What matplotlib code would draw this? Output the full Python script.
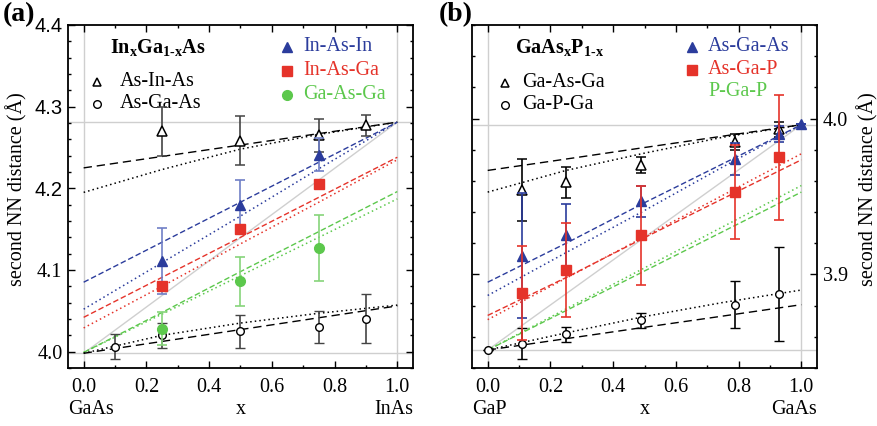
import matplotlib
matplotlib.use("Agg")
import matplotlib.pyplot as plt
from matplotlib.ticker import MultipleLocator, FormatStrFormatter

plt.rcParams['font.family'] = 'serif'
plt.rcParams['font.serif'] = ['Liberation Serif', 'DejaVu Serif']
plt.rcParams['mathtext.fontset'] = 'custom'
plt.rcParams['mathtext.rm'] = 'Liberation Serif'
plt.rcParams['mathtext.bf'] = 'Liberation Serif:bold'
plt.rcParams['mathtext.it'] = 'Liberation Serif:italic'

BLUE = '#2b3c9c'
RED = '#e5332a'
GREEN = '#5cc84c'
BLUE_ERR = '#6f7fc6'
GREEN_ERR = '#86d47a'
GRAY = '#cfcfcf'

# ---------------- panel (a): InxGa1-xAs ----------------
a_xline = [0.0, 0.25, 0.5, 0.75, 1.0]
a_black_dash_up = [4.225, 4.239, 4.253, 4.267, 4.281]
a_black_dot_up = [4.195, 4.223, 4.248, 4.266, 4.281]
a_blue_dash = [4.085, 4.134, 4.183, 4.232, 4.281]
a_blue_dot = [4.052, 4.109, 4.166, 4.224, 4.281]
a_red_dash = [4.042, 4.091, 4.140, 4.189, 4.238]
a_red_dot = [4.029, 4.080, 4.132, 4.183, 4.235]
a_green_dash = [3.999, 4.048, 4.098, 4.147, 4.196]
a_green_dot = [3.999, 4.046, 4.093, 4.140, 4.187]
a_black_dash_lo = [3.998, 4.0125, 4.027, 4.0415, 4.056]
a_black_dot_lo = [3.998, 4.020, 4.035, 4.047, 4.057]
a_ref_lo, a_ref_hi = 3.998, 4.281

a_AsInAs_x = [0.25, 0.5, 0.75, 0.9]
a_AsInAs_y = [4.270, 4.258, 4.265, 4.277]
a_AsInAs_e = [0.030, 0.030, 0.020, 0.013]
a_AsGaAs_x = [0.1, 0.25, 0.5, 0.75, 0.9]
a_AsGaAs_y = [4.006, 4.020, 4.025, 4.030, 4.040]
a_AsGaAs_e = [0.015, 0.015, 0.020, 0.020, 0.030]
a_InAsIn_x = [0.25, 0.5, 0.75]
a_InAsIn_y = [4.111, 4.180, 4.241]
a_InAsIn_e = [0.040, 0.030, 0.020]
a_InAsGa_x = [0.25, 0.5, 0.75]
a_InAsGa_y = [4.080, 4.150, 4.205]
a_GaAsGa_x = [0.25, 0.5, 0.75]
a_GaAsGa_y = [4.028, 4.086, 4.127]
a_GaAsGa_e = [0.020, 0.030, 0.040]

# ---------------- panel (b): GaAsxP1-x ----------------
b_xline = [0.0, 0.25, 0.5, 0.75, 1.0]
b_black_dash_up = [3.9667, 3.9740, 3.9814, 3.9887, 3.996]
b_black_dot_up = [3.9528, 3.9667, 3.9778, 3.9880, 3.996]
b_blue_dash = [3.895, 3.920, 3.946, 3.971, 3.996]
b_blue_dot = [3.8865, 3.914, 3.941, 3.969, 3.996]
b_red_dash = [3.8737, 3.8980, 3.9236, 3.9486, 3.9735]
b_red_dot = [3.8710, 3.8976, 3.9242, 3.9508, 3.9774]
b_green_dot = [3.8515, 3.8779, 3.9042, 3.9306, 3.957]
b_green_dash = [3.8515, 3.8768, 3.9022, 3.9275, 3.9528]
b_black_dot_lo = [3.8515, 3.8625, 3.8730, 3.8820, 3.890]
b_black_dash_lo = [3.8515, 3.8588, 3.8661, 3.8733, 3.8806]
b_ref_lo, b_ref_hi = 3.8515, 3.996

b_GaAsGa_x = [0.11, 0.25, 0.49, 0.79, 0.93]
b_GaAsGa_y = [3.954, 3.959, 3.970, 3.985, 3.993]
b_GaAsGa_e = [0.020, 0.010, 0.005, 0.005, 0.005]
b_GaPGa_x = [0.0, 0.11, 0.25, 0.49, 0.79, 0.93]
b_GaPGa_y = [3.8515, 3.8556, 3.8615, 3.8705, 3.8806, 3.8876]
b_GaPGa_e = [0.0, 0.010, 0.005, 0.005, 0.015, 0.030]
b_AsGaAs_x = [0.11, 0.25, 0.49, 0.79, 0.93, 1.0]
b_AsGaAs_y = [3.912, 3.925, 3.947, 3.974, 3.990, 3.9966]
b_AsGaAs_e = [0.040, 0.020, 0.010, 0.010, 0.005, 0.0]
b_AsGaP_x = [0.11, 0.25, 0.49, 0.79, 0.93]
b_AsGaP_y = [3.888, 3.903, 3.925, 3.953, 3.975]
b_AsGaP_e = [0.030, 0.030, 0.032, 0.030, 0.040]

xticks = [0.0, 0.2, 0.4, 0.6, 0.8, 1.0]

fig = plt.figure(figsize=(8.77, 4.26), dpi=100)
axA = fig.add_axes([0.0775, 0.1362, 0.3934, 0.8052])
axB = fig.add_axes([0.5382, 0.1362, 0.3934, 0.8052])

DASH_K = (0, (6, 3.5))
DASH_C = (0, (4, 2))
DOT = (0, (1, 2))
FS = 14.5


def style_axes(ax, ylim, ymajor, right=False):
    ax.set_xlim(-0.05, 1.05)
    ax.set_ylim(*ylim)
    ax.set_xticks(xticks)
    ax.xaxis.set_minor_locator(MultipleLocator(0.1))
    ax.yaxis.set_major_locator(MultipleLocator(ymajor))
    ax.yaxis.set_minor_locator(MultipleLocator(0.02))
    ax.xaxis.set_major_formatter(FormatStrFormatter('%.1f'))
    ax.yaxis.set_major_formatter(FormatStrFormatter('%.1f'))
    ax.tick_params(which='both', direction='in', top=True, right=True, left=True, bottom=True)
    ax.tick_params(which='major', length=5, width=1.0, labelsize=FS)
    ax.tick_params(which='minor', length=2.5, width=1.0)
    ax.tick_params(axis='x', pad=7)
    ax.tick_params(axis='y', pad=4)
    if right:
        ax.tick_params(axis='y', labelleft=False, labelright=True)
    for s in ax.spines.values():
        s.set_linewidth(1.3)


def ref_lines(ax, lo, hi):
    ax.axhline(lo, color=GRAY, lw=1.0, zorder=1)
    ax.axhline(hi, color=GRAY, lw=1.0, zorder=1)
    ax.axvline(0.0, color=GRAY, lw=1.0, zorder=1)
    ax.axvline(1.0, color=GRAY, lw=1.0, zorder=1)
    ax.plot([0.0, 1.0], [lo, hi], color=GRAY, lw=1.0, zorder=1)


# ---------- panel (a) ----------
ax = axA
style_axes(ax, (3.98, 4.40), 0.1)
ref_lines(ax, a_ref_lo, a_ref_hi)
ax.plot(a_xline, a_black_dash_up, color='k', ls=DASH_K, lw=1.0, zorder=2)
ax.plot(a_xline, a_black_dot_up, color='k', ls=DOT, lw=1.1, zorder=2)
ax.plot(a_xline, a_blue_dash, color=BLUE, ls=DASH_C, lw=1.0, zorder=2)
ax.plot(a_xline, a_blue_dot, color=BLUE, ls=DOT, lw=1.1, zorder=2)
ax.plot(a_xline, a_red_dash, color=RED, ls=DASH_C, lw=1.0, zorder=2)
ax.plot(a_xline, a_red_dot, color=RED, ls=DOT, lw=1.1, zorder=2)
ax.plot(a_xline, a_green_dash, color=GREEN, ls=DASH_C, lw=1.0, zorder=2)
ax.plot(a_xline, a_green_dot, color=GREEN, ls=DOT, lw=1.1, zorder=2)
ax.plot(a_xline, a_black_dash_lo, color='k', ls=DASH_K, lw=1.0, zorder=2)
ax.plot(a_xline, a_black_dot_lo, color='k', ls=DOT, lw=1.1, zorder=2)

ax.errorbar(a_AsInAs_x, a_AsInAs_y, yerr=a_AsInAs_e, fmt='^', ms=6.5, mfc='white', mec='k', mew=1.1,
            ecolor='#444444', elinewidth=1.2, capsize=3.5, capthick=1.2, zorder=4)
ax.errorbar(a_AsGaAs_x, a_AsGaAs_y, yerr=a_AsGaAs_e, fmt='o', ms=5.5, mfc='white', mec='k', mew=1.0,
            ecolor='#444444', elinewidth=1.2, capsize=3.5, capthick=1.2, zorder=4)
ax.errorbar(a_InAsIn_x, a_InAsIn_y, yerr=a_InAsIn_e, fmt='^', ms=7.5, color=BLUE,
            ecolor=BLUE_ERR, elinewidth=1.2, capsize=3.5, capthick=1.2, zorder=5)
ax.plot(a_InAsGa_x, a_InAsGa_y, 's', ms=6.5, color=RED, zorder=6)
ax.errorbar(a_GaAsGa_x, a_GaAsGa_y, yerr=a_GaAsGa_e, fmt='o', ms=7, color=GREEN,
            ecolor=GREEN_ERR, elinewidth=1.2, capsize=3.5, capthick=1.2, zorder=5)

# serif/sans tick label mix as in the reference
fig.canvas.draw()
for lab in ax.get_yticklabels():
    if lab.get_text() in ('4.4', '4.3', '4.2'):
        lab.set_family('Liberation Sans')

ax.set_ylabel('second NN distance (Å)', fontsize=FS)
ax.yaxis.set_label_coords(-0.116, 0.52)

T = ax.transAxes
ax.text(0.122, 0.933, r'$\mathbf{In_{x}Ga_{1\text{-}x}As}$', transform=T, fontsize=FS,
        va='center', ha='left')
ax.plot([0.084], [0.834], '^', ms=6, mfc='white', mec='k', mew=1.1, transform=T, clip_on=False)
ax.text(0.151, 0.834, 'As-In-As', transform=T, fontsize=FS, va='center', ha='left')
ax.plot([0.084], [0.770], 'o', ms=5.5, mfc='white', mec='k', mew=1.0, transform=T, clip_on=False)
ax.text(0.151, 0.770, 'As-Ga-As', transform=T, fontsize=FS, va='center', ha='left')
ax.plot([0.635], [0.936], '^', ms=7.5, color=BLUE, transform=T, clip_on=False)
ax.text(0.681, 0.936, 'In-As-In', transform=T, fontsize=FS, va='center', ha='left', color=BLUE)
ax.plot([0.635], [0.866], 's', ms=6.5, color=RED, transform=T, clip_on=False)
ax.text(0.681, 0.866, 'In-As-Ga', transform=T, fontsize=FS, va='center', ha='left', color=RED)
ax.plot([0.635], [0.796], 'o', ms=7, color=GREEN, transform=T, clip_on=False)
ax.text(0.681, 0.796, 'Ga-As-Ga', transform=T, fontsize=FS, va='center', ha='left', color=GREEN)

ax.text(0.0, -0.122, 'GaAs', transform=T, fontsize=FS, va='center', ha='left')
ax.text(0.5, -0.122, 'x', transform=T, fontsize=FS, va='center', ha='center')
ax.text(1.0, -0.122, 'InAs', transform=T, fontsize=FS, va='center', ha='right')

fig.text(0.003, 0.965, '(a)', fontsize=20, fontweight='bold', va='center', ha='left')

# ---------- panel (b) ----------
ax = axB
style_axes(ax, (3.84, 4.06), 0.1, right=True)
ref_lines(ax, b_ref_lo, b_ref_hi)
ax.plot(b_xline, b_black_dash_up, color='k', ls=DASH_K, lw=1.0, zorder=2)
ax.plot(b_xline, b_black_dot_up, color='k', ls=DOT, lw=1.1, zorder=2)
ax.plot(b_xline, b_blue_dash, color=BLUE, ls=DASH_C, lw=1.0, zorder=2)
ax.plot(b_xline, b_blue_dot, color=BLUE, ls=DOT, lw=1.1, zorder=2)
ax.plot(b_xline, b_red_dash, color=RED, ls=DASH_C, lw=1.0, zorder=2)
ax.plot(b_xline, b_red_dot, color=RED, ls=DOT, lw=1.1, zorder=2)
ax.plot(b_xline, b_green_dot, color=GREEN, ls=DOT, lw=1.1, zorder=2)
ax.plot(b_xline, b_green_dash, color=GREEN, ls=DASH_C, lw=1.0, zorder=2)
ax.plot(b_xline, b_black_dot_lo, color='k', ls=DOT, lw=1.1, zorder=2)
ax.plot(b_xline, b_black_dash_lo, color='k', ls=DASH_K, lw=1.0, zorder=2)

ax.errorbar(b_GaAsGa_x, b_GaAsGa_y, yerr=b_GaAsGa_e, fmt='^', ms=6.5, mfc='white', mec='k', mew=1.1,
            ecolor='k', elinewidth=1.2, capsize=3.5, capthick=1.2, zorder=4)
ax.errorbar(b_GaPGa_x, b_GaPGa_y, yerr=b_GaPGa_e, fmt='o', ms=5.5, mfc='white', mec='k', mew=1.0,
            ecolor='k', elinewidth=1.2, capsize=3.5, capthick=1.2, zorder=4)
ax.errorbar(b_AsGaAs_x, b_AsGaAs_y, yerr=b_AsGaAs_e, fmt='^', ms=7.5, color=BLUE,
            ecolor=BLUE, elinewidth=1.2, capsize=3.5, capthick=1.2, zorder=5)
ax.errorbar(b_AsGaP_x, b_AsGaP_y, yerr=b_AsGaP_e, fmt='s', ms=6.5, color=RED,
            ecolor=RED, elinewidth=1.2, capsize=3.5, capthick=1.2, zorder=6)

ax.yaxis.set_label_position('right')
ax.set_ylabel('second NN distance (Å)', fontsize=FS, rotation=90)
ax.yaxis.set_label_coords(1.116, 0.52)

T = ax.transAxes
ax.text(0.125, 0.933, r'$\mathbf{GaAs_{x}P_{1\text{-}x}}$', transform=T, fontsize=FS,
        va='center', ha='left')
ax.plot([0.096], [0.831], '^', ms=6, mfc='white', mec='k', mew=1.1, transform=T, clip_on=False)
ax.text(0.145, 0.831, 'Ga-As-Ga', transform=T, fontsize=FS, va='center', ha='left')
ax.plot([0.096], [0.767], 'o', ms=5.5, mfc='white', mec='k', mew=1.0, transform=T, clip_on=False)
ax.text(0.145, 0.767, 'Ga-P-Ga', transform=T, fontsize=FS, va='center', ha='left')
ax.plot([0.638], [0.936], '^', ms=7.5, color=BLUE, transform=T, clip_on=False)
ax.text(0.684, 0.936, 'As-Ga-As', transform=T, fontsize=FS, va='center', ha='left', color=BLUE)
ax.plot([0.638], [0.869], 's', ms=6.5, color=RED, transform=T, clip_on=False)
ax.text(0.684, 0.869, 'As-Ga-P', transform=T, fontsize=FS, va='center', ha='left', color=RED)
ax.text(0.684, 0.805, 'P-Ga-P', transform=T, fontsize=FS, va='center', ha='left', color=GREEN)

ax.text(0.0, -0.122, 'GaP', transform=T, fontsize=FS, va='center', ha='left')
ax.text(0.5, -0.122, 'x', transform=T, fontsize=FS, va='center', ha='center')
ax.text(1.0, -0.122, 'GaAs', transform=T, fontsize=FS, va='center', ha='right')

fig.text(0.500, 0.965, '(b)', fontsize=20, fontweight='bold', va='center', ha='left')

fig.savefig('out.png', dpi=100)
